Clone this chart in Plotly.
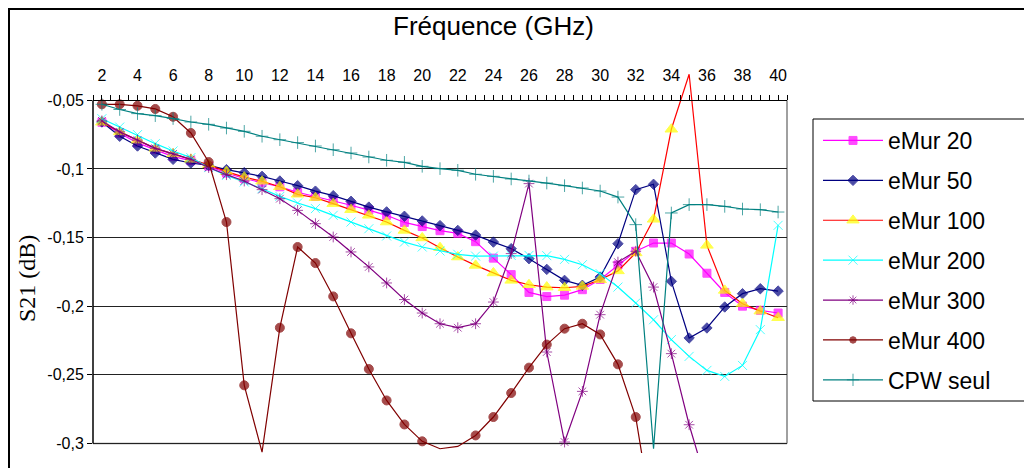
import plotly.graph_objects as go

# %% Données

freq = list(range(2, 41))

emur20 = [-0.066, -0.074, -0.081, -0.086, -0.091, -0.094, -0.098, -0.103, -0.107, -0.110,
          -0.113, -0.117, -0.120, -0.123, -0.1265, -0.130, -0.1338, -0.139, -0.142, -0.145,
          -0.147, -0.153, -0.165, -0.177, -0.190, -0.193, -0.192, -0.188, -0.1805, -0.170,
          -0.160, -0.154, -0.154, -0.162, -0.176, -0.190, -0.200, -0.203, -0.205]
emur50 = [-0.0658, -0.0762, -0.0833, -0.0884, -0.093, -0.0957, -0.0974, -0.1005, -0.1027, -0.1054,
          -0.1088, -0.1122, -0.1162, -0.1195, -0.1236, -0.1278, -0.1313, -0.1345, -0.1379, -0.1413,
          -0.1448, -0.1482, -0.1533, -0.1581, -0.1654, -0.1732, -0.1812, -0.1848, -0.1788, -0.1545,
          -0.1151, -0.1112, -0.1819, -0.2232, -0.2159, -0.2006, -0.1909, -0.1873, -0.189]
emur100 = [-0.066, -0.073, -0.079, -0.085, -0.089, -0.093, -0.097, -0.102, -0.106, -0.109,
           -0.113, -0.1185, -0.121, -0.1253, -0.1297, -0.1338, -0.1387, -0.1448, -0.1503, -0.1574,
           -0.1642, -0.1703, -0.1758, -0.1812, -0.1844, -0.1861, -0.1866, -0.1856, -0.1808, -0.1743,
           -0.1612, -0.1367, -0.0711, -0.031, -0.1557, -0.1885, -0.1982, -0.2036, -0.2084]
emur200 = [-0.0634, -0.0695, -0.075, -0.0816, -0.0869, -0.0918, -0.099, -0.1047, -0.1095, -0.1144,
           -0.12, -0.1248, -0.1289, -0.1338, -0.1387, -0.1436, -0.1489, -0.1533, -0.1569, -0.1598,
           -0.1622, -0.1635, -0.1635, -0.163, -0.163, -0.1632, -0.1659, -0.1698, -0.1763, -0.1861,
           -0.1977, -0.2099, -0.2244, -0.2366, -0.2468, -0.2512, -0.2432, -0.2171, -0.1411]
emur300 = [-0.065, -0.073, -0.079, -0.085, -0.089, -0.093, -0.099, -0.1042, -0.1088, -0.1151,
           -0.1217, -0.1302, -0.1399, -0.1496, -0.1605, -0.1714, -0.1831, -0.1952, -0.205, -0.2128,
           -0.2157, -0.2128, -0.197, -0.1617, -0.1107, -0.2334, -0.299, -0.2621, -0.2062, -0.1679,
           -0.16, -0.1861, -0.2346, -0.2864, -0.33, None, None, None, None]
emur400 = [-0.0529, -0.0529, -0.054, -0.0563, -0.062, -0.0738, -0.095, -0.1387, -0.2577, -0.3063,
           -0.2157, -0.1569, -0.1686, -0.1929, -0.2198, -0.2458, -0.2687, -0.2862, -0.2985, -0.3039,
           -0.3022, -0.2942, -0.2808, -0.2633, -0.2448, -0.228, -0.2164, -0.2128, -0.2206, -0.2424,
           -0.2808, -0.36, None, None, None, None, None, None, None]
cpw = [-0.0529, -0.0567, -0.0597, -0.0612, -0.0633, -0.0658, -0.0675, -0.0702, -0.0726, -0.0762,
       -0.0787, -0.0808, -0.0833, -0.086, -0.0884, -0.0913, -0.0937, -0.0952, -0.0981, -0.0998,
       -0.101, -0.1039, -0.1054, -0.1073, -0.1088, -0.1103, -0.1122, -0.1139, -0.1161, -0.1205,
       -0.1406, -0.3039, -0.1321, -0.126, -0.126, -0.1273, -0.1292, -0.1297, -0.1314]

y_ticks = [-0.3, -0.25, -0.2, -0.15, -0.1, -0.05]
y_ticktext = ["-0,3", "-0,25", "-0,2", "-0,15", "-0,1", "-0,05"]
x_ticks = list(range(2, 41, 2))

# axe visible de -0.3 à -0.05, mais la zone de tracé déborde un peu (comme Excel)
y_lo, y_hi = -0.3, -0.05
y_min, y_max = -0.307, -0.025

series = [
    ("eMur 20", emur20, "#FF00FF", "square", "#FF00FF", 8),
    ("eMur 50", emur50, "#000080", "diamond", "#000080", 8),
    ("eMur 100", emur100, "#FF0000", "triangle-up", "#FFFF00", 11),
    ("eMur 200", emur200, "#00FFFF", "x-thin-open", "#00FFFF", 9),
    ("eMur 300", emur300, "#800080", "asterisk-open", "#800080", 9),
    ("eMur 400", emur400, "#800000", "circle", "#800000", 9),
    ("CPW seul", cpw, "#008080", "cross-thin-open", "#008080", 9),
]

fig = go.Figure()

for name, vals, lc, sym, mc, size in series:
    # pas de marqueur hors de l'échelle visible
    sizes = [size if (v is not None and y_lo - 1e-9 <= v <= y_hi + 1e-9) else 0 for v in vals]
    fig.add_trace(go.Scatter(
        x=freq, y=vals, name=name, mode="lines+markers",
        line=dict(color=lc, width=1.2),
        marker=dict(symbol=sym, color=mc, size=sizes,
                    line=dict(color=mc, width=1)),
        legendgroup=name,
    ))

# position de l'axe des x (en haut, à -0.05)
x_axis_pos = (y_hi - y_min) / (y_max - y_min)

minor_x = [c + h for c in freq for h in (-0.5, 0.0)] + [40.5]

# la page ajoute 8 px de marge autour du graphique
L, T, PW, PH = 85, 58, 694, 387


def px_x(p):
    return (p - 8 - L) / PW


def px_y(p):
    return (T + PH - (p - 8)) / PH


fig.update_layout(
    width=1032, height=468,
    margin=dict(l=L, r=1032 - L - PW, t=T, b=468 - T - PH),
    paper_bgcolor="white", plot_bgcolor="white",
    font=dict(family="Liberation Sans, Arial, sans-serif", color="black"),
    showlegend=True,
    legend=dict(
        x=px_x(818), y=px_y(119), xanchor="left", yanchor="top",
        borderwidth=0, bgcolor="rgba(0,0,0,0)",
        font=dict(size=23, family="Liberation Sans, Arial, sans-serif"),
        tracegroupgap=7, itemwidth=60,
    ),
    xaxis=dict(
        range=[1.5, 40.5], side="top", anchor="free", position=x_axis_pos,
        tickmode="array", tickvals=x_ticks, ticks="outside", ticklen=5,
        tickcolor="black", showline=True, linecolor="black", linewidth=1,
        showgrid=False, zeroline=False, tickfont=dict(size=16),
        ticklabelstandoff=8,
        minor=dict(tickmode="array", tickvals=minor_x, ticks="outside",
                   ticklen=5, tickcolor="black", showgrid=False),
    ),
    yaxis=dict(
        range=[y_min, y_max], tickmode="array", tickvals=y_ticks, ticktext=y_ticktext,
        ticks="outside", ticklen=5, tickcolor="black", showline=False,
        showgrid=True, gridcolor="#222222", gridwidth=1, zeroline=False,
        tickfont=dict(size=16),
    ),
)

# axe des y (de -0.3 à -0.05), bordures grises droite/bas, cadre extérieur, cadre de légende
fig.add_shape(type="line", xref="paper", yref="y", x0=0, x1=0, y0=y_lo, y1=y_hi,
              line=dict(color="black", width=1.5), layer="above")
fig.add_shape(type="line", xref="paper", yref="y", x0=1, x1=1, y0=y_lo, y1=y_hi,
              line=dict(color="#808080", width=1.5), layer="below")
fig.add_shape(type="line", xref="paper", yref="y", x0=0, x1=1, y0=y_lo, y1=y_lo,
              line=dict(color="#808080", width=1.5), layer="below")
fig.add_shape(type="rect", xref="paper", yref="paper",
              x0=px_x(9), x1=1.6, y0=-0.5, y1=px_y(9),
              line=dict(color="black", width=2), fillcolor="rgba(0,0,0,0)")
fig.add_shape(type="rect", xref="paper", yref="paper",
              x0=px_x(813), x1=px_x(1029), y0=px_y(401), y1=px_y(119),
              line=dict(color="black", width=1), fillcolor="white", layer="below")

fig.add_annotation(text="Fréquence (GHz)", xref="paper", yref="paper",
                   x=px_x(493), y=px_y(26), showarrow=False,
                   xanchor="center", yanchor="middle",
                   font=dict(size=26, family="Liberation Sans, Arial, sans-serif"))
fig.add_annotation(text="S21 (dB)", xref="paper", yref="paper",
                   x=px_x(27), y=px_y(279), showarrow=False,
                   xanchor="center", yanchor="middle", textangle=-90,
                   font=dict(size=24, family="Liberation Serif, Times New Roman, serif"))

fig.write_html("out.html")
